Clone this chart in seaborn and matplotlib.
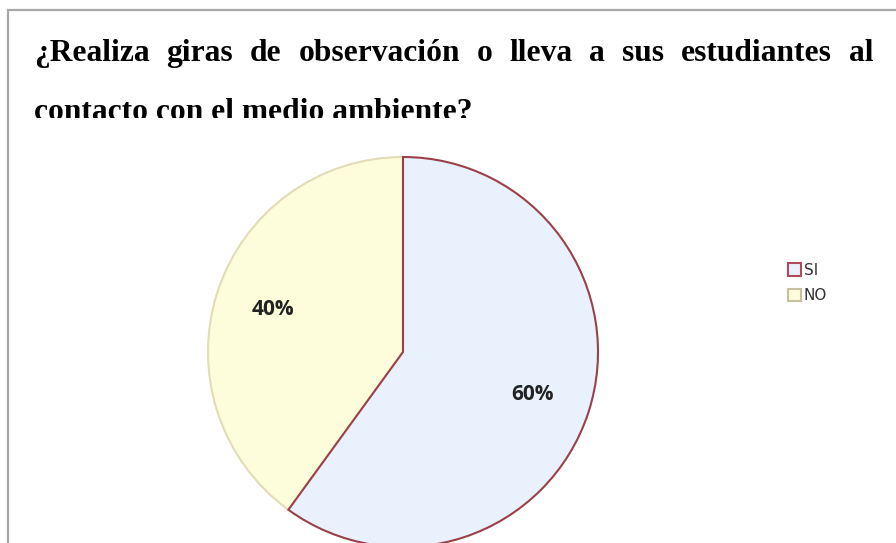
import matplotlib.pyplot as plt
import seaborn as sns
from matplotlib.patches import Rectangle

# Data
labels = ['SI', 'NO']
values = [60, 40]
fill_colors = ['#e8f1fc', '#fdfddb']
edge_colors = ['#9c4048', '#e2ddb8']

title_line1 = '¿Realiza giras de observación o lleva a sus estudiantes al'
title_line2 = 'contacto con el medio ambiente?'

sns.set_style('white')
plt.rcParams['font.family'] = ['DejaVu Sans']

W, H = 896, 543
fig = plt.figure(figsize=(W / 100, H / 100), dpi=100)
fig.patch.set_facecolor('white')

# outer frame (open on right and bottom)
fig.add_artist(Rectangle((8 / W, -0.1), 1.1, (H - 9.5) / H + 0.1, transform=fig.transFigure,
                         fill=False, edgecolor='#a8a8a8', linewidth=1.6, zorder=4))

# justified first title line
renderer = fig.canvas.get_renderer()
words = title_line1.split(' ')
title_kw = dict(family='Liberation Serif', fontweight='bold', fontsize=22.7, color='black')
left, right = 34, 873
y1 = 1 - 61 / H
texts = [fig.text(0, y1, w, va='baseline', ha='left', **title_kw) for w in words]
widths = [t.get_window_extent(renderer).width for t in texts]
gap = (right - left - sum(widths)) / (len(words) - 1)
x = left
for t, w in zip(texts, widths):
    t.set_x(x / W)
    x += w + gap
fig.text(left / W, 1 - 120 / H, title_line2, va='baseline', ha='left', zorder=2, **title_kw)

# pie axes
cx, cy, r = 403, 352, 195
ax = fig.add_axes([(cx - r) / W, 1 - (cy + r) / H, 2 * r / W, 2 * r / H])
ax.set_zorder(5)
ax.patch.set_alpha(0)
wedges, _, autotexts = ax.pie(values, colors=fill_colors, startangle=90, counterclock=False,
                              autopct='%1.0f%%', pctdistance=0.7, radius=1,
                              wedgeprops=dict(linewidth=1.5))
for w, ec in zip(wedges, edge_colors):
    w.set_edgecolor(ec)
wedges[0].set_zorder(wedges[1].get_zorder() + 0.5)
for t in autotexts:
    t.set_fontsize(15)
    t.set_fontweight('bold')
    t.set_color('#222222')
    t.set_family(['Open Sans', 'DejaVu Sans'])
ax.set_xlim(-1, 1)
ax.set_ylim(-1, 1)
ax.set_aspect('equal')
ax.axis('off')

# white mask clips the lower part of the second title line
fig.add_artist(Rectangle((9 / W, 0), 1, (H - 118) / H, transform=fig.transFigure,
                         facecolor='white', edgecolor='none', zorder=3))

# legend
leg = fig.legend(wedges, labels, loc='upper left', bbox_to_anchor=(774 / W, 1 - 249 / H),
                 frameon=False, fontsize=11, handlelength=0.85, handleheight=0.85,
                 labelspacing=0.7, handletextpad=0.2)
leg.set_zorder(6)
leg.legend_handles[0].set_edgecolor('#b04a5a')
leg.legend_handles[1].set_edgecolor('#c8c0a0')
for txt in leg.get_texts():
    txt.set_color('#333333')

fig.savefig('out.png', dpi=100)
